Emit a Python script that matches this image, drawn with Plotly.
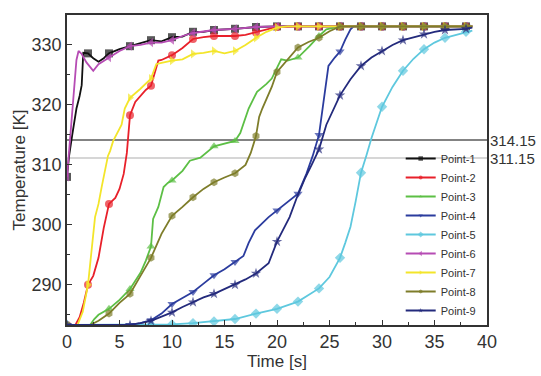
import plotly.graph_objects as go

# ---------------- data ----------------
names = ["Point-1", "Point-2", "Point-3", "Point-4", "Point-5",
         "Point-6", "Point-7", "Point-8", "Point-9"]

plateau_t = [20, 22, 24, 26, 28, 30, 32, 34, 36, 38, 38.6]

t1 = [0, 0.2, 0.5, 0.9, 1.2, 1.4, 1.55, 2, 2.5, 3, 3.5, 4, 5, 6, 7, 8, 9, 10, 11, 12, 13, 14, 16, 18] + plateau_t
T1 = [308, 311.5, 315, 319.4, 321.5, 323.3, 328.7, 328.6, 327.8, 327.2, 327.8, 328.6, 329.3, 329.8, 330.2,
      330.8, 330.6, 331.3, 331.4, 332.2, 332.2, 332.5, 332.7, 333.0] + [333.1] * 11

t2 = [0, 0.8, 1.2, 1.6, 2, 2.5, 3, 3.5, 4, 4.6, 5, 5.4, 5.7, 6, 6.5, 7, 7.5, 8, 8.3, 8.7, 9, 10, 11,
      12, 13, 14, 15, 16, 17, 18, 19] + plateau_t
T2 = [283.3, 283.3, 284.6, 287, 290, 291.5, 294.5, 299.5, 303.5, 304.5, 306, 308.5, 312, 318.3, 320.5,
      321.6, 322.5, 323.2, 325, 327.4, 327.5, 328.3, 329.5, 331, 331.3, 331.5, 331.5, 331.5, 331.7,
      332.1, 332.5] + [333.0] + [333.1] * 10

t3 = [0, 2.2, 2.6, 3, 4, 5, 6, 7, 7.5, 8, 8.2, 8.7, 9.2, 9.6, 10, 11, 11.7, 12.7, 14, 15, 16, 16.5,
      17, 17.3, 18.1, 19, 19.5, 20.4, 21, 22, 23.1, 24, 24.7, 26, 28, 30, 32, 34, 36, 38, 38.6]
T3 = [283.3, 283.3, 284.3, 285, 286, 287.5, 289.3, 292, 294, 296.4, 301, 303, 306.3, 307, 307.4,
      309, 310.7, 311.2, 313.1, 313.6, 314, 315.3, 317.8, 319.4, 322.2, 323.5, 324.4, 327.6, 327.4,
      327.9, 329.8, 331.5, 332.6, 333.1, 333.1, 333.1, 333.1, 333.1, 333.1, 333.1, 333.1]

t4 = [0, 6, 7, 8, 9, 10, 11, 12, 13, 14, 15, 16, 16.8, 17.3, 17.9, 19.2, 20, 21, 22, 22.8, 23.4,
      24, 24.6, 24.9, 25.5, 26, 26.5, 27, 27.3, 28, 30, 32, 34, 36, 38, 38.6]
T4 = [283.3, 283.3, 283.6, 284.1, 285.2, 286.8, 287.8, 288.8, 290.2, 291.6, 292.6, 293.8, 294.8,
      297, 299.1, 301.3, 302.4, 303.8, 305.2, 308.5, 311.5, 315, 322.7, 326.5, 327.9, 328.9, 330.9,
      332.6, 333.1, 333.1, 333.1, 333.1, 333.1, 333.1, 333.1, 333.1]

t5 = [0, 8, 10, 12, 14, 16, 18, 20, 22, 24, 25, 25.5, 26, 26.5, 27, 27.5, 28, 28.5, 29, 30, 31,
      32, 33, 34, 35, 36, 37, 38, 38.6]
T5 = [283.3, 283.3, 283.4, 283.6, 283.9, 284.3, 285.2, 286, 287.2, 289.4, 291.3, 292.8, 294.5,
      297, 299.7, 304, 308.7, 311.5, 314.5, 319.7, 323, 325.7, 327.7, 329.3, 330.4, 331.2, 331.7,
      332.2, 332.4]

t6 = [0, 0.3, 0.6, 0.9, 1.1, 1.4, 1.85, 2.2, 2.5, 3, 4, 5, 6, 7, 8, 9, 10, 11, 12, 14, 16, 18] + plateau_t
T6 = [308, 315, 322, 327.5, 329, 328.5, 327.1, 326.3, 325.7, 326.8, 327.9, 329, 329.8, 330, 330.4,
      330.4, 330.8, 331.5, 332, 332.5, 332.7, 333.0] + [333.1] * 11

t7 = [0, 1.0, 1.5, 2, 2.67, 3, 3.3, 3.9, 4.1, 4.4, 5.2, 5.5, 6, 7, 8, 8.5, 9, 10, 11, 12, 13, 14,
      15, 16, 17, 18, 19, 20, 21] + plateau_t[1:]
T7 = [283.3, 283.3, 285.5, 290, 301.3, 303.5, 306.3, 311.5, 312.3, 314, 316.7, 319.4, 321.2,
      322.7, 324.4, 326.8, 327, 327.4, 327.6, 328.5, 328.7, 329, 328.6, 329, 330, 331.2, 332.2,
      332.9, 333.1] + [333.1] * 10

t8 = [0, 2.2, 3, 4, 5, 6, 7, 8, 9, 10, 11, 12, 13, 14, 15, 16, 17, 17.5, 18, 18.3, 18.6, 19,
      19.5, 20, 21, 22, 23, 24, 25, 25.7, 26, 28, 30, 32, 34, 36, 38, 38.6]
T8 = [283.3, 283.3, 284, 285.2, 287, 288.5, 291.5, 294.5, 298.5, 301.5, 303, 304.6, 306, 307.1,
      307.9, 308.6, 310, 312, 314.8, 318, 319.4, 321, 323, 325.5, 327.5, 329.6, 330.5, 331.2, 332.3,
      332.9, 333.1, 333.1, 333.1, 333.1, 333.1, 333.1, 333.1, 333.1]

t9 = [0, 6, 7, 8, 9, 10, 11, 12, 13, 14, 15, 16, 17, 18, 19.2, 20, 21.2, 21.9, 22.7, 23.3, 24,
      24.7, 25.4, 26, 27, 28, 29, 30, 31, 32, 33, 34, 35, 36, 37, 38, 38.6]
T9 = [283.3, 283.3, 283.6, 284, 284.7, 285.4, 286.3, 287.1, 287.9, 288.5, 289.3, 290, 290.9,
      291.9, 293.6, 297.2, 301.3, 304.6, 307.9, 310, 312.6, 316.7, 319.4, 321.6, 324.3, 326.5,
      327.9, 329, 330, 330.8, 331.3, 331.8, 332.2, 332.5, 332.6, 332.7, 332.9]

times = [t1, t2, t3, t4, t5, t6, t7, t8, t9]
temps = [T1, T2, T3, T4, T5, T6, T7, T8, T9]

ref_levels = [314.15, 311.15]
ref_labels = ["314.15", "311.15"]

x_ticks = [0, 5, 10, 15, 20, 25, 30, 35, 40]
y_ticks = [290, 300, 310, 320, 330]

# ---------------- styles ----------------
colors = ["#111111", "#e8202a", "#5cbf45", "#2b3c9e", "#5ec8de",
          "#b64cb4", "#f3e52a", "#7e7d2a", "#232a7c"]
symbols = ["square", "circle", "triangle-up", "triangle-down", "diamond",
           "triangle-left", "triangle-right", "hexagon", "star"]
ref_colors = ["#5a5a5a", "#c8c8c8"]

fig = go.Figure()
for name, tx, ty, c, s in zip(names, times, temps, colors, symbols):
    sizes = [8 if (abs(v - round(v)) < 1e-9 and int(round(v)) % 2 == 0) else 0 for v in tx]
    fig.add_trace(go.Scatter(
        x=tx, y=ty, name=name, mode="lines+markers",
        line=dict(color=c, width=1.8),
        marker=dict(symbol=s, color=c, size=sizes, line=dict(width=0)),
    ))

for lvl, lab, rc in zip(ref_levels, ref_labels, ref_colors):
    fig.add_shape(type="line", xref="paper", x0=0, x1=1, yref="y", y0=lvl, y1=lvl,
                  line=dict(color=rc, width=1.4), layer="below")
    fig.add_annotation(xref="paper", x=1.0, xanchor="left", yref="y", y=lvl,
                       text=lab, showarrow=False, xshift=1,
                       font=dict(size=15, color="#333333"))

axis_common = dict(
    showline=True, linecolor="#333333", linewidth=1.5, mirror=True,
    ticks="inside", ticklen=5, tickwidth=1.2, tickcolor="#333333",
    showgrid=False, zeroline=False,
    tickfont=dict(size=18, color="#333333"),
)

fig.update_xaxes(range=[0, 40], tickvals=x_ticks,
                 minor=dict(ticks="inside", ticklen=3, dtick=2.5, tick0=0, tickcolor="#333333"),
                 title=dict(text="Time [s]", font=dict(size=17, color="#333333"), standoff=0),
                 **axis_common)
fig.update_yaxes(range=[283.3, 335.0], tickvals=y_ticks,
                 minor=dict(ticks="inside", ticklen=3, dtick=5, tick0=285, tickcolor="#333333"),
                 title=dict(text="Temperature [K]", font=dict(size=17, color="#333333"), standoff=2),
                 **axis_common)

fig.update_layout(
    width=541, height=376,
    margin=dict(l=67, r=54, t=15, b=46),
    paper_bgcolor="white", plot_bgcolor="white",
    font=dict(family="Liberation Sans, Arial, sans-serif", color="#333333"),
    legend=dict(x=0.985, xanchor="right", y=0.0, yanchor="bottom",
                bgcolor="rgba(0,0,0,0)", font=dict(size=11, color="#333333"),
                itemwidth=30, tracegroupgap=0),
    showlegend=True,
)

fig.write_html("out.html")
